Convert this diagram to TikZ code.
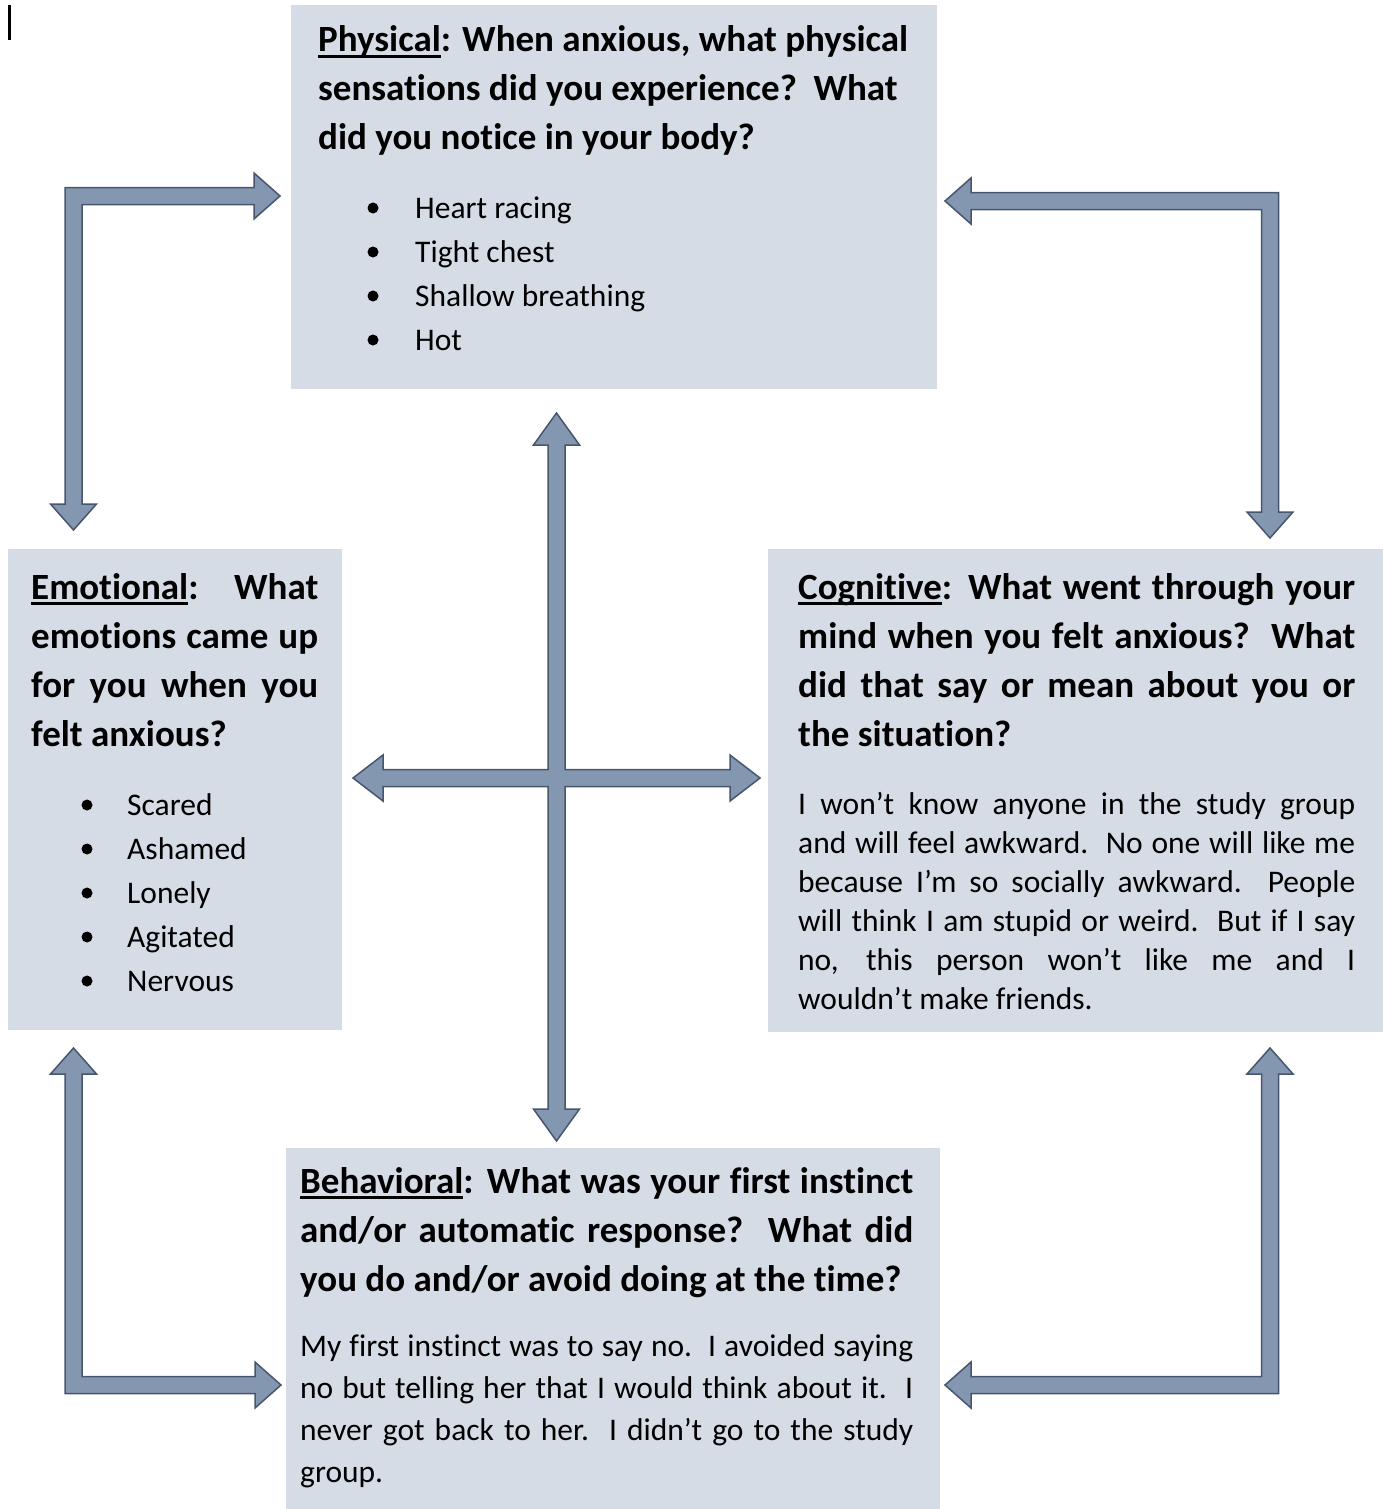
\documentclass[tikz,border=0pt]{standalone}
\usepackage{fontspec}
\setmainfont{Carlito}[Ligatures=NoCommon]
\definecolor{boxfill}{HTML}{D6DCE5}
\definecolor{arrfill}{HTML}{8497B0}
\definecolor{arrline}{HTML}{46566D}
\newcommand\myul[1]{\setbox0\hbox{#1}\rlap{\rule[-6pt]{\wd0}{2.6pt}}\box0}
\newcommand\jl[2]{\hbox{\makebox[#1][s]{#2}}}
\newcommand\nl[1]{\hbox{#1}}
\tikzset{
  panel/.style={fill=boxfill, draw=none, inner sep=0pt, anchor=north west},
  blockarrow/.style={fill=arrfill, draw=arrline, line width=1.5pt, line join=miter},
  titletext/.style={anchor=base west, inner sep=0pt, font=\fontsize{37}{44}\selectfont\bfseries},
  bodytext/.style={anchor=base west, inner sep=0pt, font=\fontsize{31.5}{38}\selectfont},
  dot/.style={fill=black, draw=none}
}
\begin{document}
\begin{tikzpicture}[x=1pt,y=-1pt]
\path[use as bounding box] (0,0) rectangle (1385,1509);
% panels
\node[panel, minimum width=646pt, minimum height=384pt] (phys) at (291,5) {};
\node[panel, minimum width=334pt, minimum height=481pt] (emo) at (8,549) {};
\node[panel, minimum width=615pt, minimum height=483pt] (cog) at (768,549) {};
\node[panel, minimum width=654pt, minimum height=361pt] (beh) at (286,1148) {};
% cursor mark
\draw[line width=2.2pt] (9.5,5) -- (9.5,40);
% Physical
\node[titletext] (ptitle) at (318,52) {\vtop{\baselineskip=49pt
\nl{\myul{Physical}: When anxious, what physical}
\nl{sensations did you experience?\ \ What}
\nl{did you notice in your body?}}};
\node[bodytext] (plist) at (415,218) {\vtop{\baselineskip=44pt
\nl{Heart racing}\nl{Tight chest}\nl{Shallow breathing}\nl{Hot}}};
\foreach \k in {0,1,2,3} \fill[dot] (373,208+44*\k) circle (5.5);
% Emotional
\node[titletext] (etitle) at (31,599) {\vtop{\baselineskip=49.3pt
\jl{287pt}{\myul{Emotional}:\ \ \ What}
\jl{287pt}{emotions came up}
\jl{287pt}{for you when you}
\nl{felt anxious?}}};
\node[bodytext] (elist) at (127,815) {\vtop{\baselineskip=44pt
\nl{Scared}\nl{Ashamed}\nl{Lonely}\nl{Agitated}\nl{Nervous}}};
\foreach \k in {0,1,2,3,4} \fill[dot] (87,805+44*\k) circle (5.5);
% Cognitive
\node[titletext] (ctitle) at (798,599) {\vtop{\baselineskip=49.3pt
\jl{557pt}{\myul{Cognitive}: What went through your}
\jl{557pt}{mind when you felt anxious?\ \ What}
\jl{557pt}{did that say or mean about you or}
\nl{the situation?}}};
\node[bodytext] (cbody) at (798,814) {\vtop{\baselineskip=39pt
\jl{557pt}{I won’t know anyone in the study group}
\jl{557pt}{and will feel awkward.\ \ No one will like me}
\jl{557pt}{because I’m so socially awkward.\ \ People}
\jl{557pt}{will think I am stupid or weird.\ \ But if I say}
\jl{557pt}{no, this person won’t like me and I}
\nl{wouldn’t make friends.}}};
% Behavioral
\node[titletext] (btitle) at (300,1193) {\vtop{\baselineskip=49pt
\jl{613pt}{\myul{Behavioral}: What was your first instinct}
\jl{613pt}{and/or automatic response?\ \ What did}
\nl{you do and/or avoid doing at the time?}}};
\node[bodytext] (bbody) at (300,1356) {\vtop{\baselineskip=42pt
\jl{613pt}{My first instinct was to say no.\ \ I avoided saying}
\jl{613pt}{no but telling her that I would think about it.\ \ I}
\jl{613pt}{never got back to her.\ \ I didn’t go to the study}
\nl{group.}}};
% arrows: top-left elbow (Emotional <-> Physical)
\draw[blockarrow] (280,196) -- (254,173) -- (254,187.5) -- (65,187.5) -- (65,504) -- (50.5,504) -- (73.5,530) -- (96.5,504) -- (82,504) -- (82,204.5) -- (254,204.5) -- (254,219) -- cycle;
% top-right elbow (Physical <-> Cognitive)
\draw[blockarrow] (945,201) -- (971,178) -- (971,192.5) -- (1278.5,192.5) -- (1278.5,512) -- (1293,512) -- (1270,538) -- (1247,512) -- (1261.5,512) -- (1261.5,209.5) -- (971,209.5) -- (971,224) -- cycle;
% bottom-left elbow (Emotional <-> Behavioral)
\draw[blockarrow] (73.5,1048) -- (96.5,1074) -- (82,1074) -- (82,1376.5) -- (255,1376.5) -- (255,1362) -- (281,1385) -- (255,1408) -- (255,1393.5) -- (65,1393.5) -- (65,1074) -- (50.5,1074) -- cycle;
% bottom-right elbow (Cognitive <-> Behavioral)
\draw[blockarrow] (1270,1048) -- (1293,1074) -- (1278.5,1074) -- (1278.5,1393.5) -- (971,1393.5) -- (971,1408) -- (945,1385) -- (971,1362) -- (971,1376.5) -- (1261.5,1376.5) -- (1261.5,1074) -- (1247,1074) -- cycle;
% central cross
\draw[blockarrow] (556.5,413) -- (579.5,445) -- (565,445) -- (565,769.5) -- (730,769.5) -- (730,755) -- (760,778) -- (730,801) -- (730,786.5) -- (565,786.5) -- (565,1109) -- (579.5,1109) -- (556.5,1141) -- (533.5,1109) -- (548,1109) -- (548,786.5) -- (383,786.5) -- (383,801) -- (353,778) -- (383,755) -- (383,769.5) -- (548,769.5) -- (548,445) -- (533.5,445) -- cycle;
\end{tikzpicture}
\end{document}
